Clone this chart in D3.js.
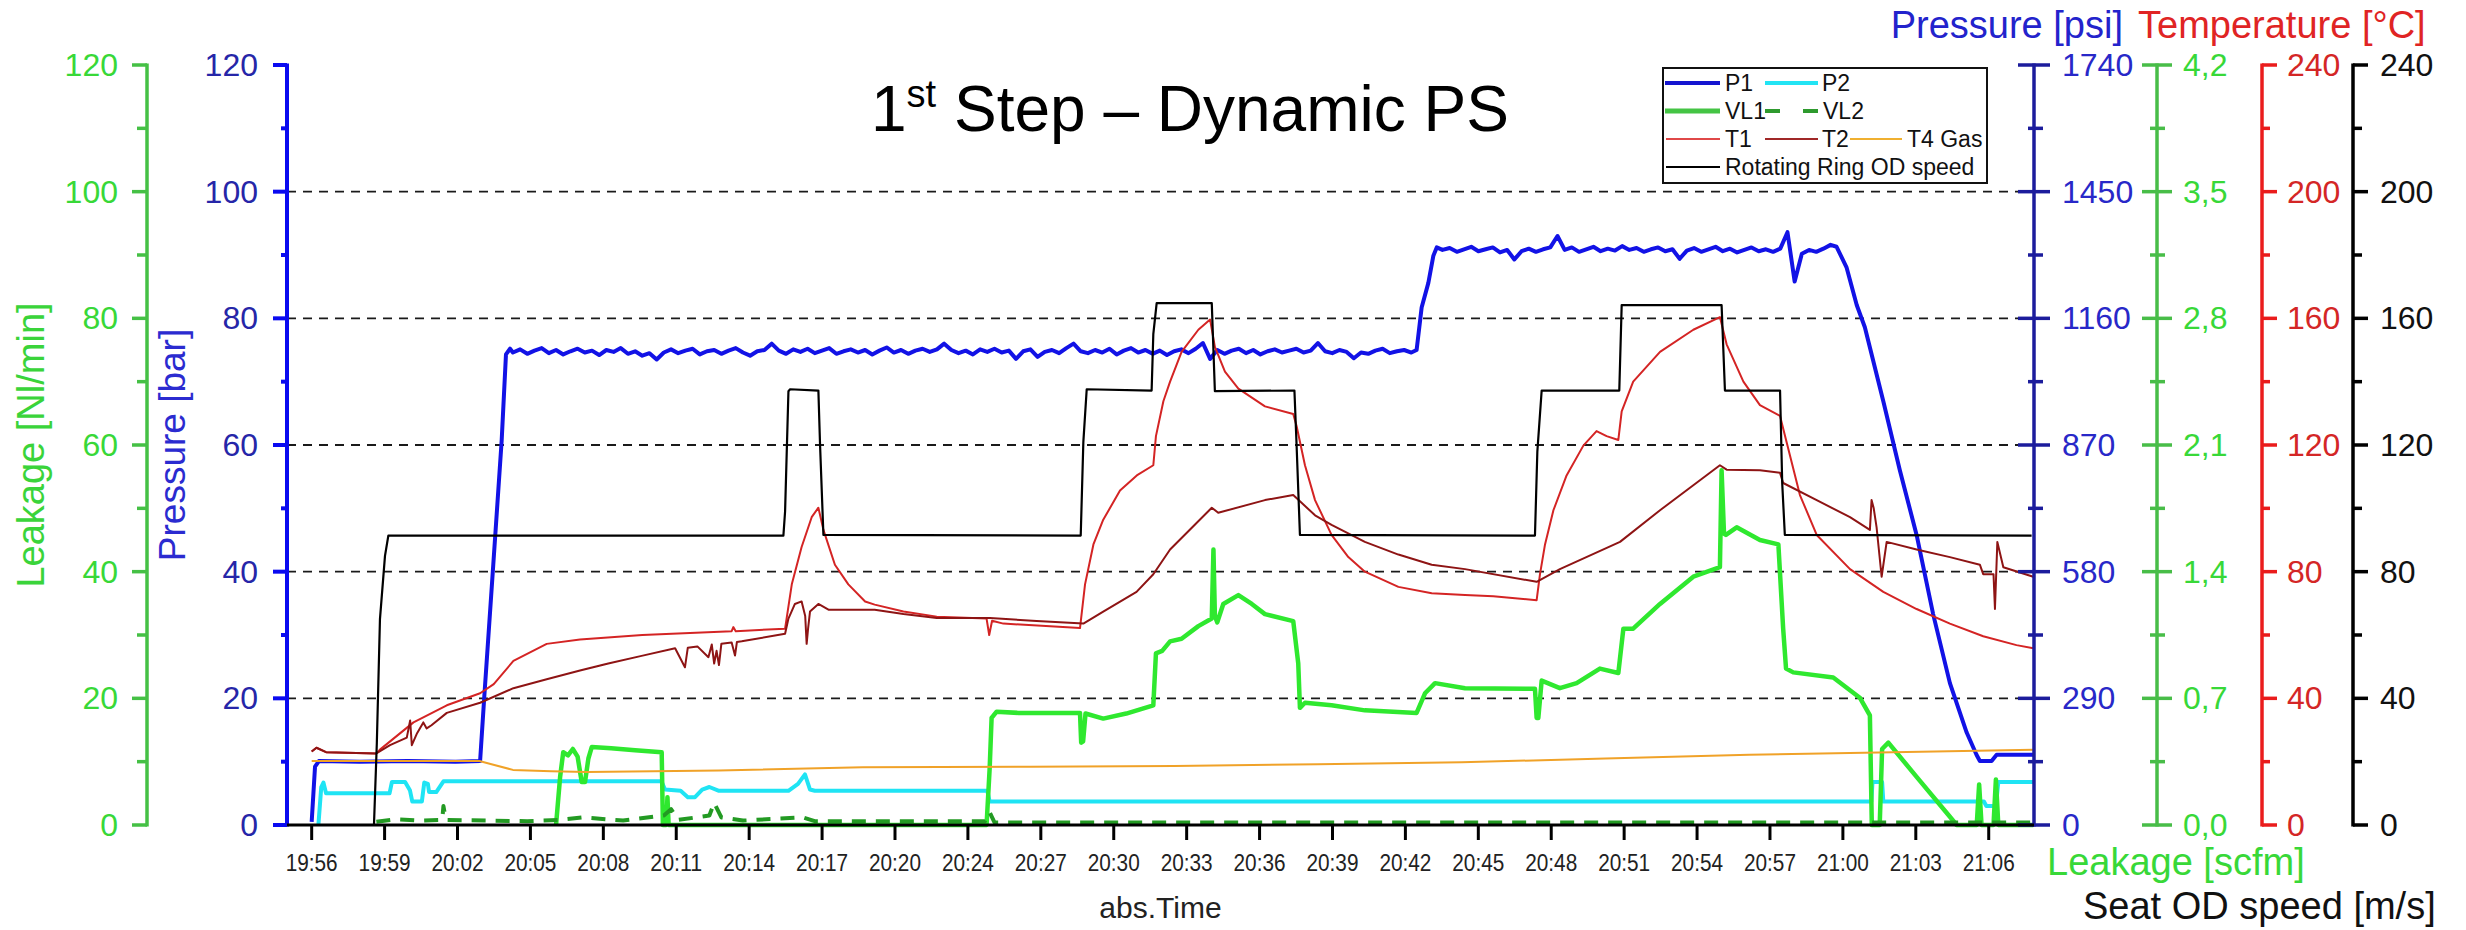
<!DOCTYPE html>
<html>
<head>
<meta charset="utf-8">
<script src="https://cdn.jsdelivr.net/npm/d3@7"></script>
<style>
  body { margin: 0; background: #fff; }
  svg { display: block; font-family: "Liberation Sans", Arial, sans-serif; }
</style>
</head>
<body>
<svg id="chart" width="2466" height="930"></svg>
<script>
// ---- data: time in minutes after the 19:56 tick ----
const tickLabels = ["19:56","19:59","20:02","20:05","20:08","20:11","20:14","20:17","20:20","20:24",
  "20:27","20:30","20:33","20:36","20:39","20:42","20:45","20:48","20:51","20:54","20:57","21:00","21:03","21:06"];
const tickStep = 70 / 23;

// P1 pressure [bar]: ramps and transitions
const p1Start = [[0,0.5],[0.14,9.2],[0.3,10.1],[2,10.0],[4,10.1],[6,10.0],[7.03,10.1],[7.2,20],[7.58,41.1],[7.93,60.7],[8.11,74.3],[8.28,75.2]];
// P1 first plateau, sampled every 0.3 min from 8.4 min
const p1Plateau1Start = 8.4;
const p1Plateau1 = [74.6,75.1,74.4,74.9,75.3,74.5,75.0,74.3,74.8,75.2,
  74.6,74.9,74.2,75.0,74.7,75.3,74.4,74.8,74.1,74.5,
  73.5,74.6,75.1,74.5,74.9,75.2,74.3,74.8,75.0,74.4,
  74.9,75.3,74.6,74.1,74.8,75.0,76.0,74.9,74.4,75.1,
  74.7,75.2,74.5,74.9,75.3,74.4,74.8,75.1,74.6,75.0,
  74.3,74.9,75.4,74.6,75.0,74.4,74.9,75.2,74.7,75.1,
  76.0,75.0,74.5,74.9,74.3,75.1,74.7,75.2,74.6,74.9,
  73.6,74.8,75.1,73.9,74.7,75.0,74.5,75.3,76.0,74.8,
  74.5,75.0,74.6,75.2,74.3,74.9,75.3,74.6,75.0,74.4,
  74.9,74.2,74.8,75.1,74.5,75.2,76.1,73.6,75.0,74.4,
  74.9,75.2,74.5,75.0,74.3,74.8,75.1,74.6,74.9,75.2,
  74.6,74.9,76.1,74.8,74.5,75.0,74.7,73.7,74.6,74.4,
  74.9,75.2,74.5,74.8,75.0,74.6];
const p1Step = [[46.12,75.0],[46.33,81.7],[46.61,85.6],[46.82,89.9],[46.96,91.2]];
// P1 second plateau, sampled every 0.3 min from 47.2 min
const p1Plateau2Start = 47.2;
const p1Plateau2 = [90.8,91.1,90.5,90.9,91.3,90.6,90.9,91.2,90.4,90.8,
  89.3,90.6,91.0,90.5,90.9,91.2,93.0,90.8,91.2,90.5,
  90.9,91.3,90.6,91.0,90.7,91.4,90.8,91.1,90.5,90.9,
  91.2,90.6,90.9,89.4,90.7,91.1,90.5,90.9,91.3,90.6,
  91.0,90.4,90.8,91.2,90.6,90.9,90.5,91.0,93.6,85.8,
  90.2,90.8,90.5,91.0,91.6];
const p1End = [[63.65,91.3],[64.07,88.0],[64.49,82.1],[64.83,78.6],[65.6,66.9],[66.29,56.0],[66.99,45.8],[67.68,33.3],[68.38,22.4],
  [69.08,14.6],[69.49,11.1],[69.63,10.1],[70.12,10.1],[70.33,11.1],[71.86,11.1]];
const plateauSpacing = 0.3;

// P2 pressure [bar]
const p2 = [[0.28,0],[0.4,6.0],[0.49,6.7],[0.6,5.0],[3.25,5.0],[3.35,6.8],[3.9,6.8],[4.1,5.5],[4.2,3.7],[4.6,3.7],[4.7,6.7],[4.85,6.5],[4.9,5.2],
  [5.2,5.2],[5.5,6.9],[11.0,6.9],[14.6,6.9],[14.75,5.6],[15.4,5.4],[15.7,4.4],[16.0,4.4],[16.3,5.6],[16.6,6.0],[17.0,5.4],[19.9,5.4],[20.3,6.5],
  [20.59,8.0],[20.8,5.6],[21.0,5.4],[28.2,5.4],[28.3,3.7],[65.1,3.7],[65.15,6.8],[65.55,6.8],[65.6,3.7],[69.8,3.7],[69.9,3.0],[70.3,3.0],[70.4,6.8],[71.86,6.8]];

// VL1 leakage [Nl/min]
const vl1 = [[10.2,0],[10.37,7.6],[10.5,11.5],[10.7,11.0],[10.9,12.0],[11.1,10.8],[11.27,6.8],[11.41,6.8],[11.55,10.5],[11.69,12.3],[12.5,12.1],
  [13.5,11.8],[14.61,11.5],[14.66,0],[14.8,0],[14.85,4.4],[14.9,0],[28.17,0],[28.3,9],[28.38,16.9],[28.59,17.9],[29.5,17.7],[31,17.7],[32.07,17.7],
  [32.12,13],[32.2,13.2],[32.3,17.6],[33.04,16.8],[34.0,17.6],[35.13,18.9],[35.24,27.1],[35.5,27.5],[35.83,29.0],[36.31,29.4],[37.01,31.4],
  [37.57,32.6],[37.64,43.5],[37.7,33.0],[37.8,32.0],[38.05,34.9],[38.68,36.3],[39.24,34.9],[39.79,33.3],[40.97,32.2],[41.18,25.5],[41.25,18.5],
  [41.46,19.3],[42.57,18.9],[43.96,18.1],[46.12,17.7],[46.47,20.8],[46.89,22.4],[48.14,21.6],[51.06,21.5],[51.13,16.9],[51.2,16.9],[51.34,22.8],
  [52.1,21.6],[52.8,22.4],[53.77,24.7],[54.54,24.0],[54.75,31.0],[55.16,31.0],[56.28,34.9],[57.67,39.2],[58.78,40.7],[58.85,56.0],[58.95,46.0],
  [59.03,45.8],[59.48,47.0],[60.45,45.0],[61.22,44.3],[61.42,31.0],[61.54,24.7],[61.84,24.1],[63.51,23.3],[64.62,20.1],[65.04,17.3],[65.12,0],
  [65.45,0],[65.55,12],[65.81,13.0],[66.99,7.6],[68.38,1.3],[68.66,0],[69.5,0],[69.6,6.4],[69.7,0],[70.2,0],[70.3,7.2],[70.4,0],[71.86,0]];

// VL2 leakage [Nl/min]
const vl2 = [[2.7,0.5],[3.5,0.9],[4.6,0.7],[5.45,0.8],[5.5,3.0],[5.6,0.8],[9,0.6],[10.3,0.8],[11.3,1.2],[13,0.7],[14.7,1.5],[15,2.5],[15.3,0.8],
  [16.6,1.5],[16.8,3.5],[17.1,1.2],[18,0.7],[20.5,1.2],[21,0.6],[28.1,0.6],[28.3,2.0],[28.5,0.4],[71.8,0.4]];

// T1 temperature [°C]
const t1 = [[0,23.2],[0.2,24.4],[0.6,23.0],[2.7,22.6],[2.85,23.8],[4.25,32.4],[5.64,37.8],[7.03,41.6],[7.6,44.5],[8.42,51.8],[9.81,57.2],
  [11.2,58.6],[13.8,60.0],[17.53,61.2],[17.6,62.5],[17.7,61.2],[19.76,62.0],[20.04,76.0],[20.45,87.8],[20.87,97.2],[21.15,100.2],[21.36,93.2],
  [21.84,82.2],[22.4,76.0],[23.1,70.6],[23.5,69.6],[24.7,67.4],[26.09,65.8],[28.17,65.2],[28.28,60.0],[28.4,64.5],[28.87,63.6],[32.07,62.2],
  [32.28,76.0],[32.63,88.6],[33.04,96.4],[33.74,105.6],[34.44,110.4],[35.13,113.6],[35.24,122.8],[35.55,133.8],[35.83,140.0],[36.31,149.4],
  [37.01,156.4],[37.5,159.6],[37.7,151.0],[38.12,143.2],[38.68,137.8],[39.79,132.2],[40.97,129.8],[41.11,126.0],[41.46,113.6],[41.88,102.6],
  [42.57,91.6],[43.27,84.6],[43.96,80.0],[45.36,75.2],[46.75,73.2],[48.14,72.6],[49.32,72.2],[51.13,71.0],[51.27,79.2],[51.48,88.6],[51.83,99.4],
  [52.38,110.4],[53.08,119.8],[53.63,124.4],[54.05,122.8],[54.54,121.6],[54.68,130.6],[55.16,140.0],[56.28,149.4],[57.67,156.4],[58.78,160.4],
  [59.06,151.8],[59.76,140.0],[60.45,132.6],[61.29,129.2],[61.42,125.2],[62.12,104.2],[62.82,91.6],[64.21,80.8],[65.6,73.6],[66.99,68.2],
  [68.38,63.6],[69.77,59.6],[71.16,56.8],[71.86,55.8]];

// T2 temperature [°C]
const t2 = [[0,23.2],[0.2,24.4],[0.6,23.0],[2.7,22.6],[3.27,25.2],[3.97,27.6],[4.11,33.0],[4.18,25.2],[4.4,29],[4.66,32.4],[4.8,30.5],[5.0,31.5],
  [5.64,35.4],[7.03,38.6],[8.42,43.2],[9.81,46.0],[11.2,48.8],[12.38,51.0],[13.77,53.4],[15.17,55.8],[15.58,49.8],[15.7,56.0],[16.1,56.4],
  [16.56,53],[16.7,57],[16.8,51],[16.9,55],[17.0,50.5],[17.1,57.2],[17.53,57.6],[17.67,53.5],[17.75,57.8],[17.95,58.0],[19.76,60.4],[19.9,65.2],
  [20.17,69.8],[20.45,70.6],[20.6,66],[20.66,57.2],[20.72,62],[20.8,67.4],[21.15,69.8],[21.57,68.0],[23.5,68.0],[24.7,66.6],[26.09,65.4],
  [28.31,65.4],[30.26,64.4],[32.21,63.6],[33.04,67.4],[34.43,73.6],[35.13,79.2],[35.83,87.0],[37.57,100.2],[37.84,98.6],[39.79,102.6],
  [40.97,104.2],[41.88,97.8],[42.57,94.8],[43.96,89.4],[45.36,85.4],[46.75,82.2],[48.14,80.8],[51.13,76.8],[52.1,80.8],[54.61,89.4],[56.28,99.4],
  [58.78,113.6],[59.06,112.2],[60.45,112.0],[61.29,111.2],[61.42,108.0],[62.82,102.6],[64.21,97.2],[65.04,93.2],[65.11,102.6],[65.2,100],
  [65.32,94],[65.53,78.4],[65.74,89.4],[66.99,87.0],[68.38,84.6],[69.63,82.2],[69.77,79.2],[70.2,79.2],[70.26,68.2],[70.36,89.4],[70.61,81.4],
  [71.86,78.4]];

// T4 gas temperature [°C]
const t4 = [[0,20.2],[7.0,20.2],[8.4,17.4],[10,17.0],[11.5,16.7],[17,17.2],[23,18.2],[30,18.4],[36,18.6],[42,19.2],[48,19.8],[54,21.0],
  [60,22.2],[66,23.0],[71.86,23.8]];

// Rotating ring OD speed [m/s]
const speed = [[2.6,0],[2.72,26],[2.85,65],[3.06,85],[3.2,91.4],[19.69,91.4],[19.76,99],[19.9,137],[19.97,137.6],[21.15,137.2],[21.22,120],
  [21.36,91.6],[32.1,91.4],[32.21,121],[32.35,137.6],[35.06,137.2],[35.13,155],[35.27,164.8],[37.57,164.8],[37.7,137],[41.02,137.2],[41.11,120],
  [41.25,91.6],[51.06,91.4],[51.16,118],[51.34,137.2],[54.58,137.2],[54.68,164.2],[58.85,164.2],[58.99,137.2],[61.29,137.2],[61.38,108],
  [61.49,91.6],[71.79,91.4]];

// assemble the full P1 trace from its pieces
const sampled = (start, vals) => vals.map((v, i) => [start + i * plateauSpacing, v]);
const p1 = [].concat(p1Start, sampled(p1Plateau1Start, p1Plateau1), p1Step, sampled(p1Plateau2Start, p1Plateau2), p1End);

// ---- layout ----
const svg = d3.select("#chart");
const plotL = 287, plotR = 2034, plotT = 65, plotB = 825;

const x = d3.scaleLinear().domain([-1.03, 71.89]).range([plotL, plotR]);
const yBar = d3.scaleLinear().domain([0, 120]).range([plotB, plotT]);
const yLeak = d3.scaleLinear().domain([0, 120]).range([plotB, plotT]);
const yPsi = d3.scaleLinear().domain([0, 1740]).range([plotB, plotT]);
const yScfm = d3.scaleLinear().domain([0, 4.2]).range([plotB, plotT]);
const yTemp = d3.scaleLinear().domain([0, 240]).range([plotB, plotT]);
const ySpeed = d3.scaleLinear().domain([0, 240]).range([plotB, plotT]);

// dashed horizontal grid
svg.append("g").selectAll("line").data([20, 40, 60, 80, 100]).join("line")
  .attr("x1", plotL).attr("x2", plotR)
  .attr("y1", d => yBar(d)).attr("y2", d => yBar(d))
  .attr("stroke", "#1a1a1a").attr("stroke-width", 1.8).attr("stroke-dasharray", "9,7");

// series
const series = [
  { data: p1, y: yBar, color: "#1212e6", w: 4 },
  { data: p2, y: yBar, color: "#1fe4f4", w: 4 },
  { data: vl1, y: yLeak, color: "#2fe82f", w: 4.5 },
  { data: vl2, y: yLeak, color: "#239a23", w: 4, dash: "14,10" },
  { data: t4, y: yTemp, color: "#f0a228", w: 2 },
  { data: t1, y: yTemp, color: "#d42424", w: 2 },
  { data: t2, y: yTemp, color: "#8e1414", w: 2 },
  { data: speed, y: ySpeed, color: "#000000", w: 2.2 }
];
const gSeries = svg.append("g");
series.forEach(s => {
  const line = d3.line().x(d => x(d[0])).y(d => s.y(d[1]));
  gSeries.append("path").datum(s.data)
    .attr("d", line).attr("fill", "none")
    .attr("stroke", s.color).attr("stroke-width", s.w)
    .attr("stroke-linejoin", "round")
    .attr("stroke-dasharray", s.dash || null);
});

// vertical axis helper: major/minor ticks given as offsets from the axis line
function yAxis(o) {
  const g = svg.append("g");
  const [b, t] = o.scale.range();
  g.append("line").attr("x1", o.x).attr("x2", o.x).attr("y1", b + 1.5).attr("y2", t - 1.5)
    .attr("stroke", o.color).attr("stroke-width", o.w);
  g.selectAll(".maj").data(o.ticks).join("line")
    .attr("x1", o.x + o.maj[0]).attr("x2", o.x + o.maj[1])
    .attr("y1", d => o.scale(d)).attr("y2", d => o.scale(d))
    .attr("stroke", o.color).attr("stroke-width", o.w);
  g.selectAll(".min").data(o.minors).join("line")
    .attr("x1", o.x + o.min[0]).attr("x2", o.x + o.min[1])
    .attr("y1", d => o.scale(d)).attr("y2", d => o.scale(d))
    .attr("stroke", o.color).attr("stroke-width", o.w);
  g.selectAll("text").data(o.ticks).join("text")
    .attr("x", o.x + o.labelDx).attr("y", d => o.scale(d))
    .attr("text-anchor", o.anchor).attr("dominant-baseline", "central")
    .attr("font-size", 32).attr("fill", o.textColor)
    .text(o.format);
}

const barTicks = [0, 20, 40, 60, 80, 100, 120];
const barMinors = [10, 30, 50, 70, 90, 110];
const psiTicks = [0, 290, 580, 870, 1160, 1450, 1740];
const scfmTicks = [0, 0.7, 1.4, 2.1, 2.8, 3.5, 4.2];
const tempTicks = [0, 40, 80, 120, 160, 200, 240];

yAxis({ scale: yLeak, x: 147, ticks: barTicks, minors: barMinors, maj: [-15, 0], min: [-10, 0],
  color: "#45c045", w: 3.5, labelDx: -29, anchor: "end", textColor: "#38d838", format: d => d });
yAxis({ scale: yBar, x: plotL, ticks: barTicks, minors: barMinors, maj: [-14, 0], min: [-6, 0],
  color: "#0a0af0", w: 4, labelDx: -29, anchor: "end", textColor: "#2626a8", format: d => d });
yAxis({ scale: yPsi, x: plotR, ticks: psiTicks, minors: psiTicks.slice(1).map(d => d - 145),
  maj: [-16, 16], min: [-6, 9], color: "#1c1c9c", w: 3.5, labelDx: 28, anchor: "start", textColor: "#2828c8", format: d => d });
yAxis({ scale: yScfm, x: 2157, ticks: scfmTicks, minors: scfmTicks.slice(1).map(d => d - 0.35),
  maj: [-15, 15], min: [-7, 8], color: "#48bd48", w: 3.5, labelDx: 26, anchor: "start", textColor: "#38d838",
  format: d => d.toFixed(1).replace(".", ",") });
yAxis({ scale: yTemp, x: 2262, ticks: tempTicks, minors: tempTicks.slice(1).map(d => d - 20),
  maj: [0, 15], min: [0, 8], color: "#ea1c1c", w: 3.5, labelDx: 25, anchor: "start", textColor: "#d42626", format: d => d });
yAxis({ scale: ySpeed, x: 2353, ticks: tempTicks, minors: tempTicks.slice(1).map(d => d - 20),
  maj: [0, 15], min: [0, 9], color: "#000", w: 3.5, labelDx: 27, anchor: "start", textColor: "#111", format: d => d });

// time axis
const gx = svg.append("g");
gx.append("line").attr("x1", plotL).attr("x2", plotR).attr("y1", plotB).attr("y2", plotB)
  .attr("stroke", "#000").attr("stroke-width", 3);
const tickPos = tickLabels.map((l, i) => ({ t: i * tickStep, label: l }));
gx.selectAll(".tk").data(tickPos).join("line")
  .attr("x1", d => x(d.t)).attr("x2", d => x(d.t)).attr("y1", plotB).attr("y2", plotB + 15)
  .attr("stroke", "#000").attr("stroke-width", 3);
gx.selectAll("text").data(tickPos).join("text")
  .attr("x", d => x(d.t)).attr("y", 871).attr("text-anchor", "middle")
  .attr("font-size", 23).attr("textLength", 52).attr("lengthAdjust", "spacingAndGlyphs")
  .attr("fill", "#222").text(d => d.label);

// axis titles
svg.append("text").attr("transform", "translate(44,445) rotate(-90)").attr("text-anchor", "middle")
  .attr("font-size", 38).attr("fill", "#3ad43a").text("Leakage [Nl/min]");
svg.append("text").attr("transform", "translate(185,445) rotate(-90)").attr("text-anchor", "middle")
  .attr("font-size", 37).attr("fill", "#2b2bd0").text("Pressure [bar]");
svg.append("text").attr("x", 2123).attr("y", 38).attr("text-anchor", "end")
  .attr("font-size", 38).attr("fill", "#2323cc").text("Pressure [psi]");
svg.append("text").attr("x", 2138).attr("y", 38)
  .attr("font-size", 38).attr("fill", "#e02424").text("Temperature [°C]");
svg.append("text").attr("x", 2047).attr("y", 875)
  .attr("font-size", 38).attr("fill", "#38d838").text("Leakage [scfm]");
svg.append("text").attr("x", 2083).attr("y", 919)
  .attr("font-size", 38).attr("fill", "#111").text("Seat OD speed [m/s]");
svg.append("text").attr("x", (plotL + plotR) / 2).attr("y", 918).attr("text-anchor", "middle")
  .attr("font-size", 30).attr("fill", "#222").text("abs.Time");

// chart title
const title = svg.append("text").attr("x", 871).attr("y", 131).attr("font-size", 64).attr("fill", "#000");
title.append("tspan").text("1");
title.append("tspan").attr("font-size", 38).attr("dy", -24).text("st");
title.append("tspan").attr("dy", 24).text(" Step – Dynamic PS");

// legend
const lg = svg.append("g");
lg.append("rect").attr("x", 1663).attr("y", 68).attr("width", 324).attr("height", 115)
  .attr("fill", "#fff").attr("stroke", "#111").attr("stroke-width", 2);
const legendItems = [
  { row: 0, x1: 1665, x2: 1720, tx: 1725, label: "P1", color: "#1515d0", w: 4 },
  { row: 0, x1: 1765, x2: 1818, tx: 1822, label: "P2", color: "#22e4f4", w: 4 },
  { row: 1, x1: 1665, x2: 1720, tx: 1725, label: "VL1", color: "#44c444", w: 5 },
  { row: 1, x1: 1765, x2: 1820, tx: 1823, label: "VL2", color: "#2e9a2e", w: 4, dash: "15,23" },
  { row: 2, x1: 1666, x2: 1720, tx: 1725, label: "T1", color: "#e04848", w: 2 },
  { row: 2, x1: 1765, x2: 1818, tx: 1822, label: "T2", color: "#a02828", w: 2 },
  { row: 2, x1: 1850, x2: 1902, tx: 1907, label: "T4 Gas", color: "#f0b030", w: 2 },
  { row: 3, x1: 1666, x2: 1720, tx: 1725, label: "Rotating Ring OD speed", color: "#000", w: 2 }
];
const rowY = r => 83 + r * 28;
lg.selectAll("line").data(legendItems).join("line")
  .attr("x1", d => d.x1).attr("x2", d => d.x2).attr("y1", d => rowY(d.row)).attr("y2", d => rowY(d.row))
  .attr("stroke", d => d.color).attr("stroke-width", d => d.w).attr("stroke-dasharray", d => d.dash || null);
lg.selectAll("text").data(legendItems).join("text")
  .attr("x", d => d.tx).attr("y", d => rowY(d.row)).attr("dominant-baseline", "central")
  .attr("font-size", 23).attr("fill", "#111").text(d => d.label);
</script>
</body>
</html>
